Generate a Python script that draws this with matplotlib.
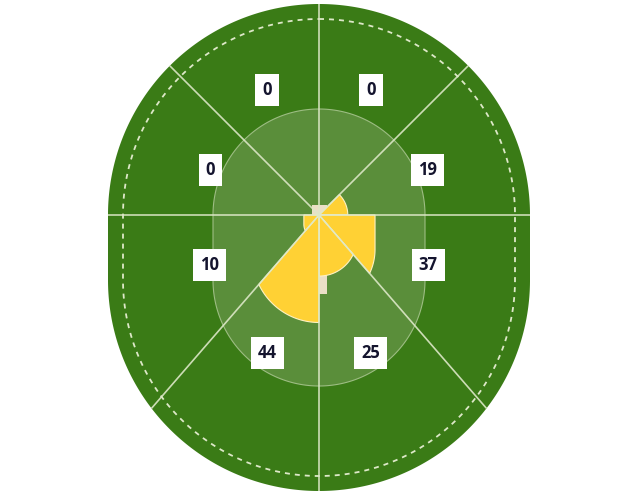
import numpy as np
import matplotlib
matplotlib.use('Agg')
import matplotlib.pyplot as plt
from matplotlib.patches import Polygon, Rectangle

plt.rcParams['lines.scale_dashes'] = False

# runs per scoring zone, clockwise from straight up
zone_runs = [0, 19, 37, 25, 44, 10, 0, 0]
# zone boundaries, compass degrees clockwise from straight up
zone_edges = [0, 45, 90, 139.1, 180, 220.9, 270, 315, 360]
# distance of each zone label from the centre (pixels)
label_dist = [135.5, 117.5, 120, 147.6, 147.6, 120, 117.5, 135.5]
run_scale = 70.0  # runs that would fill the inner ring

cx, cy = 319, 215  # centre of the zones (batting end)
outer_r, inner_r, dash_r, straight = 211, 106, 196, 65

c_outer = '#3a7b16'
c_inner = '#5a8e3a'
c_line = '#dde8c8'
c_yellow = '#ffd134'
c_pitch = '#eadfc6'


def direction(a):
    a = np.radians(a)
    return np.sin(a), -np.cos(a)


def stadium_r(a, R, L):
    # distance from centre to edge of a stadium shape along compass angle a
    dx, dy = direction(a)
    if dy <= 1e-12:
        return R
    if abs(dx) > 1e-12:
        t = R / abs(dx)
        if t * dy <= L:
            return t
    return L * dy + np.sqrt(L * L * dy * dy - L * L + R * R)


def stadium_pts(R, L, a0=0, a1=360, n=721):
    pts = []
    for a in np.linspace(a0, a1, n):
        r = stadium_r(a, R, L)
        dx, dy = direction(a)
        pts.append((cx + r * dx, cy + r * dy))
    return pts


fig = plt.figure(figsize=(6.4, 4.97), dpi=100)
ax = fig.add_axes([0, 0, 1, 1])
ax.set_xlim(0, 640)
ax.set_ylim(497, 0)
ax.axis('off')

ax.add_patch(Polygon(stadium_pts(outer_r, straight), closed=True,
                     facecolor=c_outer, edgecolor='none', zorder=1))
ax.add_patch(Polygon(stadium_pts(dash_r, straight), closed=True,
                     facecolor='none', edgecolor=c_line, lw=1.3,
                     linestyle=(0, (3.6, 3.6)), zorder=2))
ax.add_patch(Polygon(stadium_pts(inner_r, straight), closed=True,
                     facecolor=c_inner, edgecolor='#9dbd83', lw=0.8, zorder=2))

# pitch
ax.add_patch(Rectangle((312, 205), 15, 89, facecolor=c_pitch,
                       edgecolor='none', zorder=3))

# scoring wedges
for i, runs in enumerate(zone_runs):
    if runs <= 0:
        continue
    s = runs / run_scale
    pts = [(cx, cy)] + stadium_pts(inner_r * s, straight * s,
                                   zone_edges[i], zone_edges[i + 1], 200)
    ax.add_patch(Polygon(pts, closed=True, facecolor=c_yellow,
                         edgecolor='#fff2c2', lw=0.8, zorder=4))

# zone lines
for a in zone_edges[:-1]:
    r = stadium_r(a, outer_r, straight)
    dx, dy = direction(a)
    ax.plot([cx, cx + r * dx], [cy, cy + r * dy], color=c_line, lw=1.2,
            alpha=0.9, solid_capstyle='butt', zorder=5)

# labels
for i, runs in enumerate(zone_runs):
    mid = (zone_edges[i] + zone_edges[i + 1]) / 2
    dx, dy = direction(mid)
    ax.text(cx + label_dist[i] * dx, cy + label_dist[i] * dy, str(runs),
            ha='center', va='center', fontsize=12, fontweight='bold',
            family=['Open Sans', 'DejaVu Sans'], color='#14142e', zorder=6,
            bbox=dict(boxstyle='square,pad=0.42', facecolor='white',
                      edgecolor='none'))

fig.savefig('out.png', dpi=100)
